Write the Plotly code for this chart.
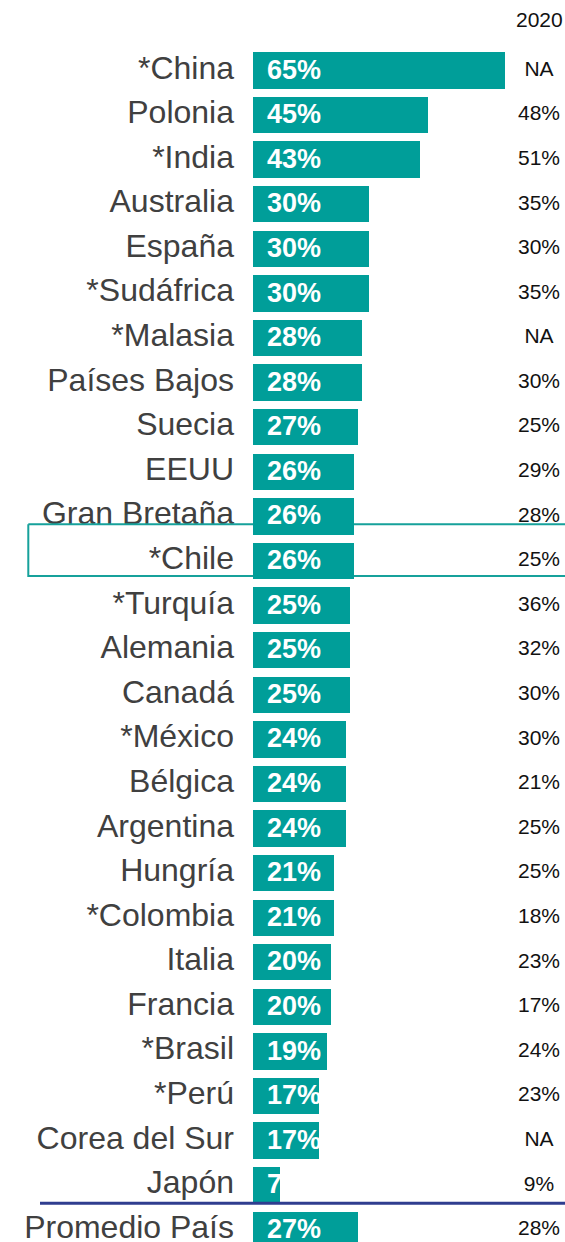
import plotly.graph_objects as go

countries = ["*China", "Polonia", "*India", "Australia", "España", "*Sudáfrica",
             "*Malasia", "Países Bajos", "Suecia", "EEUU", "Gran Bretaña", "*Chile",
             "*Turquía", "Alemania", "Canadá", "*México", "Bélgica", "Argentina",
             "Hungría", "*Colombia", "Italia", "Francia", "*Brasil", "*Perú",
             "Corea del Sur", "Japón", "Promedio País"]
values_2021 = [65, 45, 43, 30, 30, 30, 28, 28, 27, 26, 26, 26, 25, 25, 25, 24, 24,
               24, 21, 21, 20, 20, 19, 17, 17, 7, 27]
values_2020 = ["NA", "48%", "51%", "35%", "30%", "35%", "NA", "30%", "25%", "29%",
               "28%", "25%", "36%", "32%", "30%", "30%", "21%", "25%", "25%", "18%",
               "23%", "17%", "24%", "23%", "NA", "9%", "28%"]
header_2020 = "2020"
highlight = "*Chile"

TEAL = "#009E99"
NAVY = "#2F3D8F"
FONT = "Liberation Sans, Arial, sans-serif"
W, H = 565, 1242
PX_PER_UNIT = 3.88      # px per percentage point
ZERO_PX = 253           # pixel of 0%
ROW_PX = 44.59
FIRST_ROW_PX = 70.5

xr = [-ZERO_PX / PX_PER_UNIT, (W - ZERO_PX) / PX_PER_UNIT]
ytop = -FIRST_ROW_PX / ROW_PX
yr = [ytop + H / ROW_PX, ytop]

idx = list(range(len(countries)))
hi = countries.index(highlight)

def px_to_x(p):
    return (p - ZERO_PX) / PX_PER_UNIT

name_font = dict(family=FONT, size=32, color="#404040")

fig = go.Figure()

# subplot 1 (bottom layer): country names + highlight box
fig.add_trace(go.Scatter(
    x=[px_to_x(234)] * len(countries), y=idx, mode="text", text=countries,
    textposition="middle left", textfont=name_font,
    hoverinfo="skip", showlegend=False, xaxis="x", yaxis="y"))

bx0, bx1 = px_to_x(28.3), px_to_x(W + 20)
by0, by1 = hi - 0.823, hi + 0.336
fig.add_trace(go.Scatter(
    x=[bx0, bx1, bx1, bx0, bx0], y=[by0, by0, by1, by1, by0], mode="lines",
    fill="toself", fillcolor="white", line=dict(color="#16A19B", width=2),
    hoverinfo="skip", showlegend=False, xaxis="x", yaxis="y"))

fig.add_trace(go.Scatter(
    x=[px_to_x(234)], y=[hi], mode="text", text=[countries[hi]],
    textposition="middle left", textfont=name_font,
    hoverinfo="skip", showlegend=False, xaxis="x", yaxis="y"))

# subplot 2 (top layer): bars, bar labels, 2020 column
fig.add_trace(go.Bar(
    x=values_2021, y=idx, orientation="h", width=0.816,
    marker=dict(color=TEAL, line=dict(width=0)),
    hoverinfo="skip", showlegend=False, xaxis="x2", yaxis="y2"))

fig.add_trace(go.Scatter(
    x=[px_to_x(267)] * len(countries), y=[i + 0.03 for i in idx], mode="text",
    text=[f"{v}%" for v in values_2021], textposition="middle right",
    textfont=dict(family=FONT, size=27, color="white", weight="bold"),
    hoverinfo="skip", showlegend=False, xaxis="x2", yaxis="y2"))

fig.add_trace(go.Scatter(
    x=[px_to_x(539)] * len(countries), y=idx, mode="text", text=values_2020,
    textposition="middle center",
    textfont=dict(family=FONT, size=21, color="#111111"),
    hoverinfo="skip", showlegend=False, xaxis="x2", yaxis="y2"))

axis_common = dict(showgrid=False, zeroline=False, showticklabels=False,
                   ticks="", showline=False, fixedrange=True)
fig.update_layout(
    width=W, height=H, margin=dict(l=0, r=0, t=0, b=0),
    paper_bgcolor="white", plot_bgcolor="white",
    xaxis=dict(range=xr, domain=[0, 1], **axis_common),
    yaxis=dict(range=yr, domain=[0, 1], **axis_common),
    xaxis2=dict(range=xr, overlaying="x", **axis_common),
    yaxis2=dict(range=yr, overlaying="y", **axis_common),
    bargap=0,
    annotations=[dict(text=header_2020, xref="paper", yref="paper",
                      x=539 / W, y=1 - 20 / H, showarrow=False,
                      xanchor="center", yanchor="middle",
                      font=dict(family=FONT, size=21, color="#111111"))],
    shapes=[dict(type="line", xref="paper", yref="y", x0=40 / W, x1=1,
                 y0=len(countries) - 1.595, y1=len(countries) - 1.595,
                 line=dict(color=NAVY, width=3), layer="above")],
)

fig.write_html(
    "out.html",
    config={"displayModeBar": False, "staticPlot": True},
    post_script="document.body.style.margin='0';document.body.style.overflow='hidden';",
)
